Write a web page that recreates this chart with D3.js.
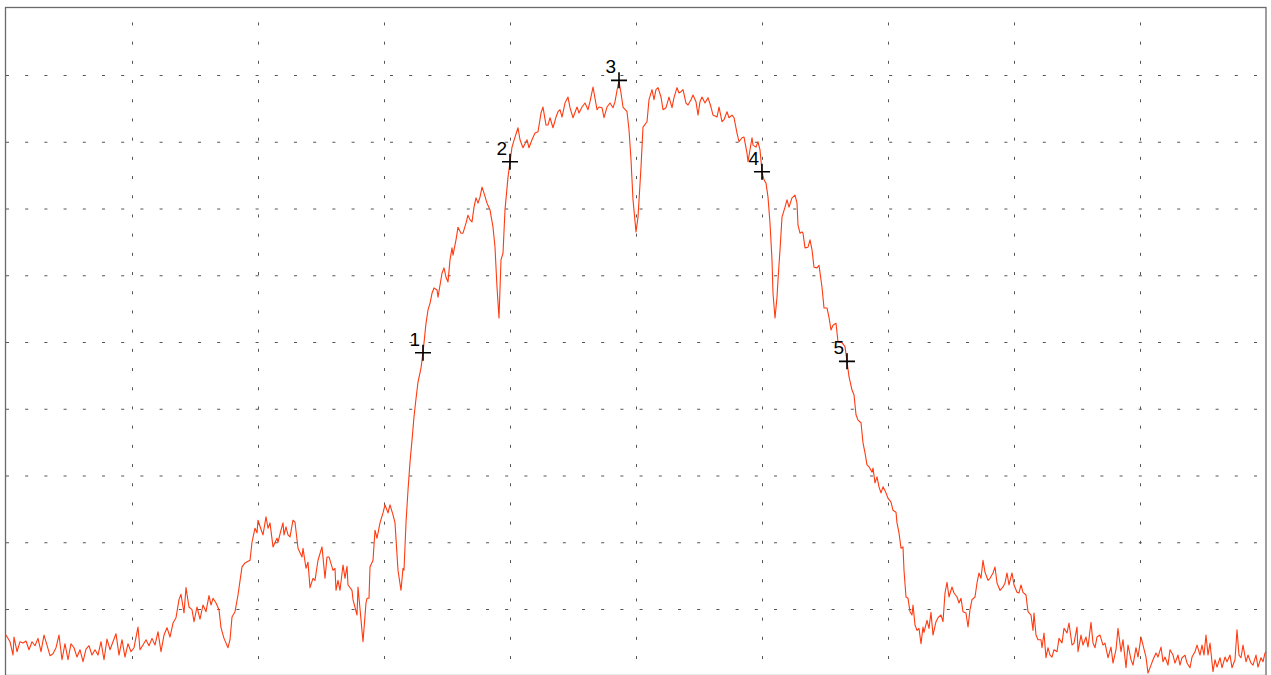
<!DOCTYPE html>
<html>
<head>
<meta charset="utf-8">
<script src="https://cdn.jsdelivr.net/npm/d3@7"></script>
<style>
  body { margin: 0; background: #fff; }
  .graph svg { display: block; }
</style>
</head>
<body>
<div class="graph"></div>
<script>
var NS = {}; // namespace
NS.width = 1271
NS.height = 675
NS.left = 6
NS.right = 1266
NS.top = 8.25
NS.bottom = 675.75

// trace: bin index (0..1260 across the span) and level in dB (ref 0, 10 dB/div)
var traceBin = [
  0,4,7,8,11,14,17,20,23,26,29,32,35,38,41,44,47,50,53,56,59,62,65,68,71,74,77,80,83,86,89,92,95,98,
  101,104,107,110,113,116,119,122,125,128,132,134,137,140,143,146,149,152,155,158,161,164,167,170,173,175,
  178,180,183,186,188,191,194,197,200,203,205,207,210,213,215,218,222,224,226,229,232,
  236,239,244,246,249,251,252,256,257,260,262,264,267,271,272,275,277,278,280,282,284,287,289,292,296,297,
  300,302,304,307,309,312,316,319,321,323,327,329,330,332,334,337,339,341,342,346,347,351,352,355,357,360,
  361,363,364,367,369,371,374,377,379,382,384,387,389,392,395,397,398,
  400,402,404,406,408,410,412,415,417,420,422,424,426,428,431,432,436,438,440,442,444,446,447,450,452,455,
  457,460,462,464,466,468,470,472,474,476,478,481,484,487,489,491,493,495,497,499,502,504,506,509,512,514,
  517,521,523,526,529,532,535,537,540,542,544,547,550,552,554,556,559,562,564,567,571,573,576,579,582,584,
  587,591,593,596,598,601,604,607,609,612,613,615,617,621,623,625,627,630,632,635,637,641,643,646,648,650,
  652,655,657,660,663,666,668,671,673,675,677,680,682,685,687,690,692,694,696,699,702,705,707,711,713,716,
  718,721,723,726,728,731,733,736,738,741,742,744,746,747,750,752,754,756,758,760,762,764,766,767,769,771,
  772,774,776,779,781,783,786,789,791,792,794,796,797,799,802,804,806,808,811,813,816,818,821,823,825,827,
  830,832,836,839,841,843,846,848,850,852,855,857,859,861,863,866,867,869,871,873,875,877,880,882,885,887,
  890,891,893,895,897,898,900,902,904,906,907,909,911,913,915,917,918,921,923,925,927,930,932,935,937,939,
  941,943,946,948,951,953,955,957,960,962,964,966,969,971,973,975,977,979,982,984,987,989,991,994,997,999,
  1001,1003,1006,1008,1011,1013,1015,1017,1020,1022,1025,1027,1028,1030,1032,1035,1036,1038,1040,1042,1044,
  1046,1048,1051,1053,1056,1058,1061,1063,1066,1068,1071,1072,1075,1077,1080,1082,1085,1087,1089,1091,1094,
  1097,1099,1102,1105,1107,1110,1112,1115,1117,1120,1122,1125,1127,1130,1132,1135,1137,1140,1142,1145,1147,
  1150,1152,1155,1157,1159,1162,1164,1167,1169,1172,1174,1176,1179,1181,1184,1186,1189,1191,1194,1196,1198,
  1200,1202,1204,1207,1209,1211,1214,1216,1219,1221,1224,1226,1229,1231,1233,1235,1237,1240,1242,1245,1247,
  1250,1252,1255,1257,1259,1260
];
var traceLevel = [
  -93.9,-94.9,-96.9,-94.2,-96.4,-94.9,-95.1,-94.8,-96.1,-94.9,-95.5,-94.4,-96.4,-93.9,-95.4,-97.0,-96.7,-95.8,-93.9,-97.6,-95.2,-97.6,-95.2,-95.8,-97.2,-96.1,-97.9,-96.0,-95.5,-96.9,-96.1,-96.9,-94.9,-97.6,
  -94.5,-96.1,-94.9,-93.7,-96.9,-94.6,-97.2,-95.2,-96.4,-95.8,-92.7,-96.1,-95.4,-94.6,-95.5,-94.4,-95.4,-93.4,-96.4,-93.9,-92.8,-94.2,-92.1,-91.3,-88.6,-87.8,
  -90.6,-86.8,-89.7,-90.1,-91.9,-89.7,-91.5,-89.4,-90.4,-88.0,-89.4,-88.4,-89.1,-90.1,-92.8,-94.4,-95.8,-94.6,-91.2,-90.4,-87.9,
  -83.7,-83.1,-82.7,-80.0,-77.9,-78.6,-76.7,-78.5,-78.9,-76.2,-77.9,-77.1,-80.7,-79.4,-80.0,-78.2,-77.1,-78.9,-77.7,-78.9,-79.2,-76.7,-77.0,-80.9,-82.2,-80.9,
  -83.9,-83.0,-86.8,-85.4,-85.7,-82.7,-80.7,-85.4,-82.2,-82.2,-84.2,-83.9,-87.2,-85.7,-87.2,-83.4,-85.4,-83.6,-86.4,-87.2,-88.6,-90.9,-86.7,-91.6,-94.9,-89.1,
  -88.4,-88.4,-83.7,-82.7,-78.2,-79.4,-77.1,-75.6,-74.4,-75.6,-74.4,-75.9,-77.1,-84.2,-87.2,-83.9,-84.2,
  -77.1,-72.2,-68.0,-64.7,-61.2,-58.5,-56.0,-53.9,-51.6,-47.2,-45.2,-44.2,-42.7,-41.9,-42.2,-43.3,-39.7,-38.9,-40.3,-41.0,-37.7,-35.9,-37.0,-34.7,-32.8,-33.7,
  -33.7,-32.2,-31.0,-31.7,-32.0,-29.8,-28.4,-29.2,-28.3,-26.8,-27.7,-29.2,-30.2,-32.8,-35.8,-41.8,-46.4,-37.7,-36.7,-30.2,-25.3,-23.0,-20.8,-19.3,-17.9,-19.7,
  -20.9,-19.7,-20.9,-19.7,-18.7,-18.5,-15.7,-14.8,-17.5,-17.5,-16.4,-17.9,-16.3,-15.5,-15.2,-16.3,-14.2,-13.3,-14.9,-16.4,-14.8,-15.7,-14.8,-14.2,-15.2,-14.0,
  -11.8,-15.2,-14.8,-14.9,-16.4,-14.8,-14.2,-14.9,-14.0,-11.5,-11.0,-12.7,-14.8,-15.5,-18.2,-22.7,-28.7,-33.5,-31.3,-23.8,-17.8,-17.0,-13.7,-12.2,-13.7,-12.2,
  -11.9,-13.3,-15.2,-14.9,-13.3,-14.9,-13.4,-11.9,-12.7,-12.5,-12.2,-14.2,-14.5,-13.7,-13.0,-14.0,-16.0,-14.0,-13.3,-14.2,-13.4,-14.8,-16.0,-16.3,-14.8,-17.0,
  -16.7,-15.5,-16.4,-16.0,-16.4,-18.7,-20.0,-19.4,-19.3,-21.7,-23.0,-21.2,-19.4,-20.5,-20.8,-20.0,-21.2,-24.5,-25.7,-26.2,-28.3,-32.2,-37.7,-42.7,-46.4,-43.3,
  -40.7,-36.2,-31.3,-29.8,-28.7,-29.8,-28.4,-28.0,-29.2,-32.5,-33.7,-33.5,-33.7,-35.9,-35.8,-34.7,-36.2,-38.8,-38.9,-38.5,-41.8,-44.9,-44.9,-46.3,-48.2,-47.5,
  -47.2,-50.0,-50.1,-50.7,-52.9,-55.2,-57.2,-57.9,-60.9,-61.7,-62.1,-65.1,-66.6,-68.4,-68.7,-69.5,-68.9,-71.1,-70.2,-71.7,-72.6,-71.7,-72.6,-73.4,-74.0,-75.2,
  -75.5,-77.1,-78.6,-80.9,-80.7,-84.2,-88.2,-88.4,-90.4,-90.9,-89.4,-92.4,-93.2,-92.9,-95.2,-92.7,-93.5,-91.7,-92.9,-90.5,-93.9,-91.9,-91.3,-90.9,-91.9,-87.6,
  -86.0,-88.2,-86.7,-87.6,-88.2,-89.1,-88.4,-90.4,-90.6,-92.7,-90.1,-88.6,-88.2,-86.1,-84.6,-85.4,-82.7,-84.5,-85.7,-85.4,-84.6,-83.7,-86.1,-87.2,-86.7,-86.1,
  -84.6,-86.4,-84.6,-86.4,-87.5,-87.6,-86.4,-87.5,-87.9,-90.4,-90.9,-93.2,-90.6,-93.9,-94.6,-94.6,-95.8,-93.6,-97.3,-95.8,-96.9,
  -97.2,-96.1,-96.4,-94.4,-95.1,-92.9,-93.6,-92.1,-95.4,-95.1,-92.7,-96.4,-93.9,-95.4,-94.2,-95.7,-92.0,-95.1,-95.8,-94.2,-93.9,
  -95.4,-95.1,-97.3,-95.7,-98.1,-96.1,-92.9,-96.4,-94.6,-98.8,-95.4,-97.6,-98.4,-95.8,-97.2,-94.2,-95.4,-97.2,-99.6,-98.4,-97.6,
  -96.6,-97.2,-95.7,-97.9,-97.2,-98.4,-96.1,-96.9,-98.1,-96.9,-98.4,-97.3,-96.9,-98.1,-98.8,-97.2,-96.4,-95.4,-96.9,-95.4,-96.9,
  -93.9,-96.9,-95.1,-99.4,-97.6,-98.7,-97.3,-98.8,-97.2,-97.9,-96.9,-98.8,-97.6,-93.1,-96.9,-97.3,-95.4,-97.9,-96.9,-98.1,-98.4,
  -96.9,-98.7,-97.3,-97.9,-96.6,-96.4
];

// markers
var markerLabels = ["1", "2", "3", "4", "5"];
var markerBins = [417, 504, 613, 756, 841];
var markerLevels = [-51.6, -23.0, -10.8, -24.5, -52.9];

// grid: 10 divisions each way
var gridBins = [126, 252, 378, 504, 630, 756, 882, 1008, 1134];
var gridLevels = [-90, -80, -70, -60, -50, -40, -30, -20, -10];

function makeSVG() {
  var svg = d3.select(".graph")
    .append("svg")
    .attr("width", NS.width)
    .attr("height", NS.height);
  svg.append("rect")
    .attr("width", NS.width)
    .attr("height", NS.height)
    .attr("fill", "#fff");
  return svg;
}

function main() {
  var x = d3.scaleLinear().domain([0, 1260]).range([NS.left, NS.right]);
  var y = d3.scaleLinear().domain([-100, 0]).range([NS.bottom, NS.top]);
  var plotW = NS.right - NS.left, plotH = NS.bottom - NS.top;

  NS.svg = makeSVG();

  // dashed grid, drawn with the axes
  var gx = NS.svg.append("g")
    .attr("class", "grid-x")
    .attr("transform", "translate(0," + NS.bottom + ")")
    .call(d3.axisBottom(x).tickValues(gridBins).tickSize(-plotH).tickFormat(""));
  var gy = NS.svg.append("g")
    .attr("class", "grid-y")
    .attr("transform", "translate(" + NS.left + ",0)")
    .call(d3.axisLeft(y).tickValues(gridLevels).tickSize(-plotW).tickFormat(""));
  [gx, gy].forEach(function(g) {
    g.select(".domain").remove();
    g.selectAll("text").remove();
    g.selectAll(".tick line")
      .attr("stroke", "#555")
      .attr("stroke-width", 1)
      .attr("stroke-dasharray", "3,16.2");
  });
  gx.selectAll(".tick line").attr("stroke-dashoffset", 2.5);

  // frame
  NS.svg.append("rect")
    .attr("x", NS.left - 0.5)
    .attr("y", NS.top - 0.75)
    .attr("width", plotW + 0.5)
    .attr("height", plotH + 0.5)
    .attr("fill", "none")
    .attr("stroke", "#6a6a6a")
    .attr("stroke-width", 1.3);

  // trace
  var points = traceBin.map(function(b, i) { return [b, traceLevel[i]]; });
  var line = d3.line()
    .x(function(d) { return x(d[0]); })
    .y(function(d) { return y(d[1]); });
  NS.svg.append("path")
    .datum(points)
    .attr("d", line)
    .attr("fill", "none")
    .attr("stroke", "#ff3a10")
    .attr("stroke-width", 1.1)
    .attr("stroke-linejoin", "round");

  // markers
  var markers = markerLabels.map(function(l, i) {
    return {label: l, bin: markerBins[i], level: markerLevels[i]};
  });
  var m = NS.svg.append("g")
      .attr("class", "markers")
    .selectAll("g")
    .data(markers)
    .enter().append("g")
      .attr("transform", function(d) {
        return "translate(" + x(d.bin) + "," + y(d.level) + ")";
      });
  m.append("path")
    .attr("d", "M-8,0H8M0,-8V8")
    .attr("stroke", "#000")
    .attr("stroke-width", 1.6)
    .attr("fill", "none");
  m.append("text")
    .text(function(d) { return d.label; })
    .attr("x", -3)
    .attr("y", -7)
    .attr("text-anchor", "end")
    .attr("font-family", "Liberation Sans, Arial, sans-serif")
    .attr("font-size", 19)
    .attr("fill", "#000");
}

main()
</script>
</body>
</html>
